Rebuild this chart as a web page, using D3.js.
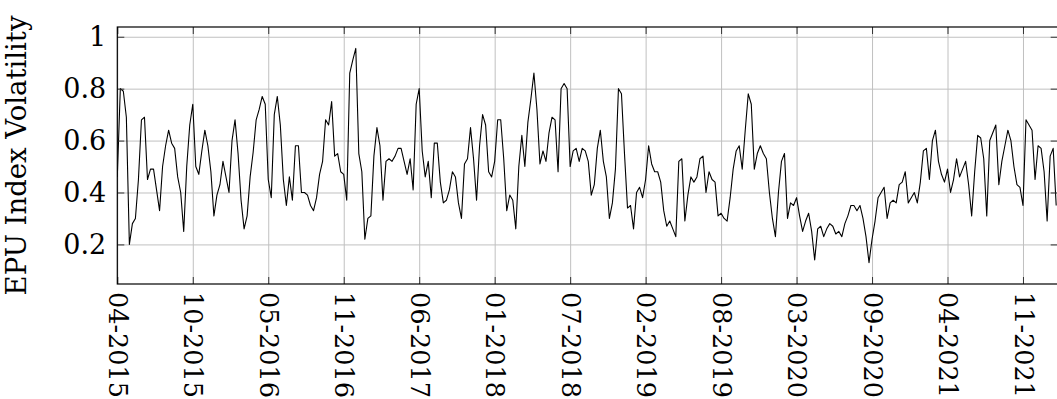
<!DOCTYPE html>
<html>
<head>
<meta charset="utf-8">
<script src="https://cdn.jsdelivr.net/npm/d3@7"></script>
<style>
    body { margin: 0; background: #fff; }
    svg text { font-family: "DejaVu Serif", serif; fill: #000; }
    .grid line { stroke: #c0c0c0; stroke-width: 1; }
    .ticks line { stroke: #333; stroke-width: 1; }
</style>
</head>
<body>
<svg id="chart" width="1057" height="399"></svg>
<script>
"use strict";

// one label every 25 samples of the series
var tickLabels = [
    "04-2015", "10-2015", "05-2016", "11-2016", "06-2017", "01-2018",
    "07-2018", "02-2019", "08-2019", "03-2020", "09-2020", "04-2021",
    "11-2021"
];
var stepsPerTick = 25;
var yTicks = [0.2, 0.4, 0.6, 0.8, 1];
var yTitle = "EPU Index Volatility";

var volatility = [
    0.46, 0.80, 0.79, 0.69, 0.20, 0.28, 0.30, 0.45, 0.68, 0.69,
    0.45, 0.49, 0.49, 0.41, 0.33, 0.50, 0.58, 0.64, 0.59, 0.57,
    0.46, 0.40, 0.25, 0.50, 0.66, 0.74, 0.50, 0.47, 0.56, 0.64,
    0.58, 0.48, 0.31, 0.39, 0.43, 0.52, 0.46, 0.40, 0.60, 0.68,
    0.55, 0.37, 0.26, 0.31, 0.46, 0.555, 0.68, 0.72, 0.77, 0.74,
    0.45, 0.38, 0.70, 0.77, 0.66, 0.45, 0.35, 0.46, 0.37, 0.58,
    0.58, 0.40, 0.40, 0.39, 0.35, 0.33, 0.38, 0.47, 0.52, 0.68,
    0.66, 0.75, 0.54, 0.55, 0.48, 0.47, 0.37, 0.86, 0.91, 0.955,
    0.55, 0.48, 0.22, 0.30, 0.31, 0.54, 0.65, 0.58, 0.37, 0.52,
    0.53, 0.52, 0.54, 0.57, 0.57, 0.52, 0.47, 0.53, 0.41, 0.74,
    0.80, 0.56, 0.46, 0.52, 0.38, 0.59, 0.59, 0.44, 0.36, 0.37,
    0.41, 0.48, 0.46, 0.36, 0.30, 0.51, 0.53, 0.65, 0.53, 0.37,
    0.58, 0.70, 0.66, 0.48, 0.46, 0.52, 0.68, 0.68, 0.53, 0.33,
    0.39, 0.37, 0.26, 0.50, 0.62, 0.50, 0.67, 0.76, 0.86, 0.72,
    0.51, 0.56, 0.52, 0.63, 0.69, 0.68, 0.48, 0.80, 0.82, 0.80,
    0.50, 0.56, 0.57, 0.52, 0.57, 0.56, 0.52, 0.39, 0.43, 0.57,
    0.64, 0.52, 0.46, 0.30, 0.36, 0.49, 0.80, 0.78, 0.55, 0.34,
    0.35, 0.26, 0.40, 0.42, 0.38, 0.45, 0.58, 0.51, 0.48, 0.48,
    0.44, 0.33, 0.27, 0.29, 0.26, 0.23, 0.52, 0.53, 0.29, 0.39,
    0.46, 0.44, 0.46, 0.53, 0.54, 0.40, 0.48, 0.45, 0.44, 0.31,
    0.32, 0.30, 0.29, 0.38, 0.49, 0.56, 0.58, 0.49, 0.64, 0.78,
    0.74, 0.49, 0.55, 0.58, 0.55, 0.53, 0.40, 0.30, 0.23, 0.40,
    0.52, 0.55, 0.30, 0.36, 0.35, 0.38, 0.31, 0.25, 0.29, 0.32,
    0.25, 0.14, 0.26, 0.27, 0.23, 0.26, 0.28, 0.27, 0.24, 0.25,
    0.23, 0.28, 0.31, 0.35, 0.35, 0.33, 0.35, 0.30, 0.23, 0.13,
    0.22, 0.29, 0.38, 0.40, 0.42, 0.30, 0.36, 0.37, 0.36, 0.43,
    0.44, 0.48, 0.36, 0.38, 0.40, 0.36, 0.44, 0.56, 0.57, 0.45,
    0.60, 0.64, 0.52, 0.47, 0.44, 0.49, 0.40, 0.45, 0.53, 0.46,
    0.49, 0.52, 0.43, 0.31, 0.48, 0.62, 0.61, 0.53, 0.31, 0.60,
    0.63, 0.66, 0.43, 0.52, 0.58, 0.64, 0.60, 0.50, 0.43, 0.42,
    0.35, 0.68, 0.66, 0.64, 0.45, 0.58, 0.57, 0.48, 0.29, 0.54,
    0.57, 0.35
];

var width = 1057; // px
var height = 399; // px
var margin = {
    top: 27, // px
    left: 117.3, // px
    bottom: 115, // px
    right: -0.7 // px, the frame sits just past the picture edge
};
var plotW = width - margin.left - margin.right;
var plotH = height - margin.top - margin.bottom;
var tickLen = 7; // px
var fontSize = 27; // px
var xFontSize = 25.5; // px

var svg = d3.select("#chart");

var x = d3.scaleLinear()
    .domain([0, volatility.length - 0.5])
    .range([margin.left, margin.left + plotW]);

// pgfplots style: 10% of the data range added on both ends
var ext = d3.extent(volatility);
var pad = (ext[1] - ext[0]) * 0.1;
var y = d3.scaleLinear()
    .domain([ext[0] - pad, ext[1] + pad])
    .range([margin.top + plotH, margin.top]);

var xTickValues = tickLabels.map(function (d, i) {
    return i * stepsPerTick;
});

svg.append("defs").append("clipPath")
    .attr("id", "plot-clip")
    .append("rect")
    .attr("x", margin.left)
    .attr("y", margin.top)
    .attr("width", plotW)
    .attr("height", plotH);

// grid
svg.append("g")
    .attr("class", "grid")
    .attr("transform", "translate(" + margin.left + ",0)")
    .call(d3.axisLeft(y).tickValues(yTicks).tickSize(-plotW)
        .tickFormat(""))
    .call(function (g) {
        g.select(".domain").remove();
    });

svg.append("g")
    .attr("class", "grid")
    .attr("transform", "translate(0," + (margin.top + plotH) + ")")
    .call(d3.axisBottom(x).tickValues(xTickValues).tickSize(-plotH)
        .tickFormat(""))
    .call(function (g) {
        g.select(".domain").remove();
    });

// the series
var line = d3.line()
    .x(function (d, i) {
        return x(i);
    })
    .y(function (d) {
        return y(d);
    });

svg.append("path")
    .datum(volatility)
    .attr("clip-path", "url(#plot-clip)")
    .attr("fill", "none")
    .attr("stroke", "#000")
    .attr("stroke-width", 1.1)
    .attr("stroke-linejoin", "round")
    .attr("d", line);

// inner tick marks on all four sides
var addTicks = function (axis, tx, ty) {
    svg.append("g")
        .attr("class", "ticks")
        .attr("transform", "translate(" + tx + "," + ty + ")")
        .call(axis.tickSize(tickLen).tickFormat(""))
        .call(function (g) {
            g.select(".domain").remove();
        });
};
addTicks(d3.axisRight(y).tickValues(yTicks), margin.left, 0);
addTicks(d3.axisLeft(y).tickValues(yTicks), margin.left + plotW, 0);
addTicks(d3.axisTop(x).tickValues(xTickValues), 0, margin.top + plotH);
addTicks(d3.axisBottom(x).tickValues(xTickValues), 0, margin.top);

// frame
svg.append("rect")
    .attr("x", margin.left)
    .attr("y", margin.top)
    .attr("width", plotW)
    .attr("height", plotH)
    .attr("fill", "none")
    .attr("stroke", "#000")
    .attr("stroke-width", 1.2);

// labels
svg.append("g")
    .attr("transform", "translate(" + margin.left + ",0)")
    .call(d3.axisLeft(y).tickValues(yTicks).tickSize(0).tickPadding(11)
        .tickFormat(function (d) {
            return d === 1 ? "1" : d3.format(".1f")(d);
        }))
    .call(function (g) {
        g.select(".domain").remove();
        g.selectAll("text")
            .attr("font-size", fontSize)
            .attr("font-family", null);
    });

svg.append("g")
    .attr("transform", "translate(0," + (margin.top + plotH) + ")")
    .call(d3.axisBottom(x).tickValues(xTickValues).tickSize(0)
        .tickFormat(function (d, i) {
            return tickLabels[i];
        }))
    .call(function (g) {
        g.select(".domain").remove();
        g.selectAll("text")
            .attr("font-size", xFontSize)
            .attr("font-family", null)
            .attr("transform", "rotate(90)")
            .attr("text-anchor", "start")
            .attr("x", 8)
            .attr("y", 0)
            .attr("dy", "0.35em");
    });

svg.append("text")
    .attr("transform", "translate(26," + (margin.top + plotH / 2) +
            ") rotate(-90)")
    .attr("text-anchor", "middle")
    .attr("font-size", 27.5)
    .text(yTitle);
</script>
</body>
</html>
